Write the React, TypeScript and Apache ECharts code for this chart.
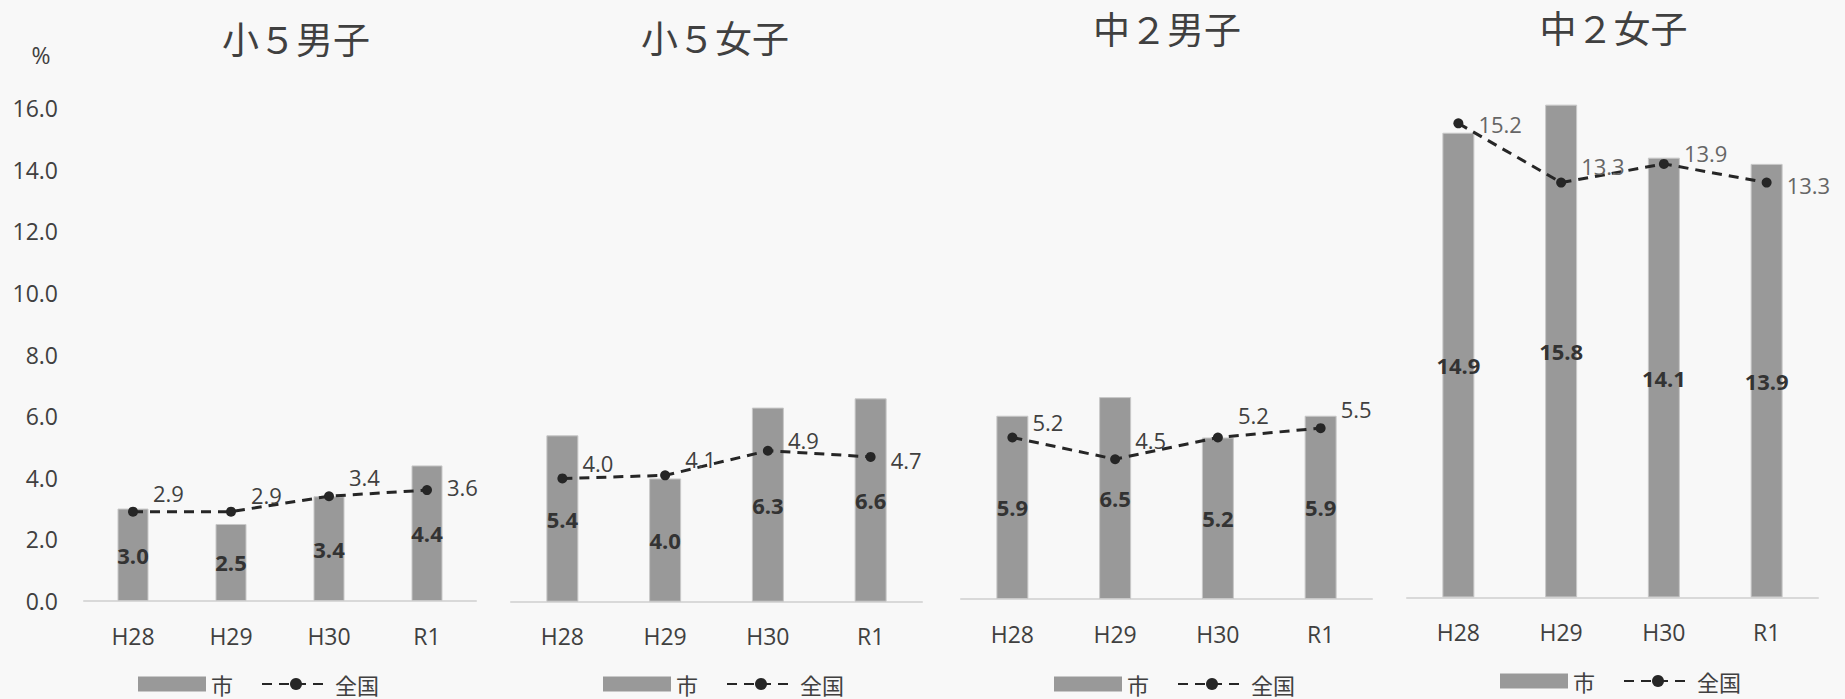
import React, { useEffect, useRef } from 'react';
import * as echarts from 'echarts';

// ---- data ----
const CATEGORIES = ['H28', 'H29', 'H30', 'R1'];
const PANEL_TITLES = ['小５男子', '小５女子', '中２男子', '中２女子'];
const SERIES_CITY = '市';
const SERIES_NATION = '全国';

const CITY_SHO5_BOYS = [3.0, 2.5, 3.4, 4.4];
const NATION_SHO5_BOYS = [2.9, 2.9, 3.4, 3.6];
const CITY_SHO5_GIRLS = [5.4, 4.0, 6.3, 6.6];
const NATION_SHO5_GIRLS = [4.0, 4.1, 4.9, 4.7];
const CITY_CHU2_BOYS = [5.9, 6.5, 5.2, 5.9];
const NATION_CHU2_BOYS = [5.2, 4.5, 5.2, 5.5];
const CITY_CHU2_GIRLS = [14.9, 15.8, 14.1, 13.9];
const NATION_CHU2_GIRLS = [15.2, 13.3, 13.9, 13.3];

const Y_MIN = 0;
const Y_MAX = 16;
const Y_INTERVAL = 2;
const Y_UNIT = '%';

const CITY_VALUES = [CITY_SHO5_BOYS, CITY_SHO5_GIRLS, CITY_CHU2_BOYS, CITY_CHU2_GIRLS];
const NATION_VALUES = [NATION_SHO5_BOYS, NATION_SHO5_GIRLS, NATION_CHU2_BOYS, NATION_CHU2_GIRLS];

// ---- layout / style ----
const BG = '#f8f8f8';
const TEXT = '#404040';
const FONT = "'Open Sans', 'Noto Sans CJK JP', sans-serif";
const CJK_FONT = "'Noto Sans CJK JP', sans-serif";

const GRIDS = [
  { left: 84, top: 108, width: 392, height: 493 },
  { left: 511, top: 108.7, width: 411, height: 493 },
  { left: 961, top: 102, width: 411, height: 497 },
  { left: 1407, top: 98.4, width: 411, height: 499 },
];
const BAR_WIDTHS = [31, 32, 32, 32];
const TITLE_POS = [
  [296, 37.5],
  [715, 36.7],
  [1167, 27.5],
  [1613.5, 27],
];
const LEGEND_POS = [
  [133, 668],
  [598, 668],
  [1049, 668],
  [1495, 665],
];
const LABEL_DY = [
  [-19, -17, -19, -3],
  [-15, -16, -11, 3],
  [-15, -19, -22, -19],
  [1, -17, -11, 2],
];
const LINE_LABEL_COLORS = [TEXT, TEXT, TEXT, '#666666'];

function buildOption() {
  const grid = GRIDS.map((g) => ({ ...g, containLabel: false }));
  const xAxis = GRIDS.map((_, i) => ({
    type: 'category',
    gridIndex: i,
    data: CATEGORIES,
    axisTick: { show: false },
    axisLine: { lineStyle: { color: '#d9d9d9', width: 2 } },
    axisLabel: { fontSize: 23, color: TEXT, margin: 23, fontFamily: FONT },
  }));
  const yAxis = GRIDS.map((_, i) => ({
    type: 'value',
    gridIndex: i,
    min: Y_MIN,
    max: Y_MAX,
    interval: Y_INTERVAL,
    show: i === 0,
    splitLine: { show: false },
    axisLine: { show: false },
    axisTick: { show: false },
    axisLabel: {
      fontSize: 23,
      color: TEXT,
      margin: 26,
      fontFamily: FONT,
      formatter: (v: number) => v.toFixed(1),
    },
  }));

  const series: any[] = [];
  GRIDS.forEach((_, i) => {
    series.push({
      type: 'bar',
      name: SERIES_CITY,
      xAxisIndex: i,
      yAxisIndex: i,
      data: CITY_VALUES[i],
      barWidth: BAR_WIDTHS[i],
      itemStyle: { color: '#999999', borderColor: '#c8c8c8', borderWidth: 1 },
      label: {
        show: true,
        position: 'inside',
        fontWeight: 'bold',
        fontSize: 22,
        color: '#333333',
        fontFamily: FONT,
        formatter: (p: any) => Number(p.value).toFixed(1),
      },
      emphasis: { disabled: true },
      z: 2,
    });
    series.push({
      type: 'line',
      name: SERIES_NATION,
      xAxisIndex: i,
      yAxisIndex: i,
      data: NATION_VALUES[i].map((v, j) => ({
        value: v,
        label: { offset: [0, LABEL_DY[i][j]] },
      })),
      symbol: 'circle',
      symbolSize: 10,
      itemStyle: { color: '#262626' },
      lineStyle: { color: '#262626', width: 3, type: [10, 7] },
      label: {
        show: true,
        position: 'right',
        distance: 15,
        fontSize: 22,
        color: LINE_LABEL_COLORS[i],
        fontFamily: FONT,
        formatter: (p: any) => Number(p.value).toFixed(1),
      },
      emphasis: { disabled: true },
      z: 3,
    });
  });

  const legend = LEGEND_POS.map(([l, t]) => ({
    data: [{ name: SERIES_CITY, icon: 'rect', itemStyle: { borderWidth: 0 } }, SERIES_NATION],
    left: l,
    top: t,
    itemWidth: 68,
    itemHeight: 15,
    itemGap: 28,
    selectedMode: false,
    textStyle: { fontSize: 22, color: TEXT, fontFamily: CJK_FONT },
  }));

  const graphic: any[] = PANEL_TITLES.map((t, i) => ({
    type: 'text',
    x: TITLE_POS[i][0],
    y: TITLE_POS[i][1],
    style: {
      text: t,
      fontSize: 37,
      fontFamily: CJK_FONT,
      fill: TEXT,
      align: 'center',
      verticalAlign: 'middle',
    },
  }));
  graphic.push({
    type: 'text',
    x: 41,
    y: 55,
    style: {
      text: Y_UNIT,
      fontSize: 23,
      fontFamily: FONT,
      fill: TEXT,
      align: 'center',
      verticalAlign: 'middle',
    },
  });

  return {
    animation: false,
    backgroundColor: BG,
    textStyle: { fontFamily: FONT },
    grid,
    xAxis,
    yAxis,
    series,
    legend,
    graphic,
  };
}

export default function App() {
  const ref = useRef<HTMLDivElement>(null);
  useEffect(() => {
    const chart = echarts.init(ref.current!, null, { renderer: 'svg' });
    chart.setOption(buildOption() as any);
    return () => chart.dispose();
  }, []);
  return (
    <div
      ref={ref}
      style={{ position: 'fixed', left: 0, top: 0, width: 1845, height: 699, background: BG }}
    />
  );
}
